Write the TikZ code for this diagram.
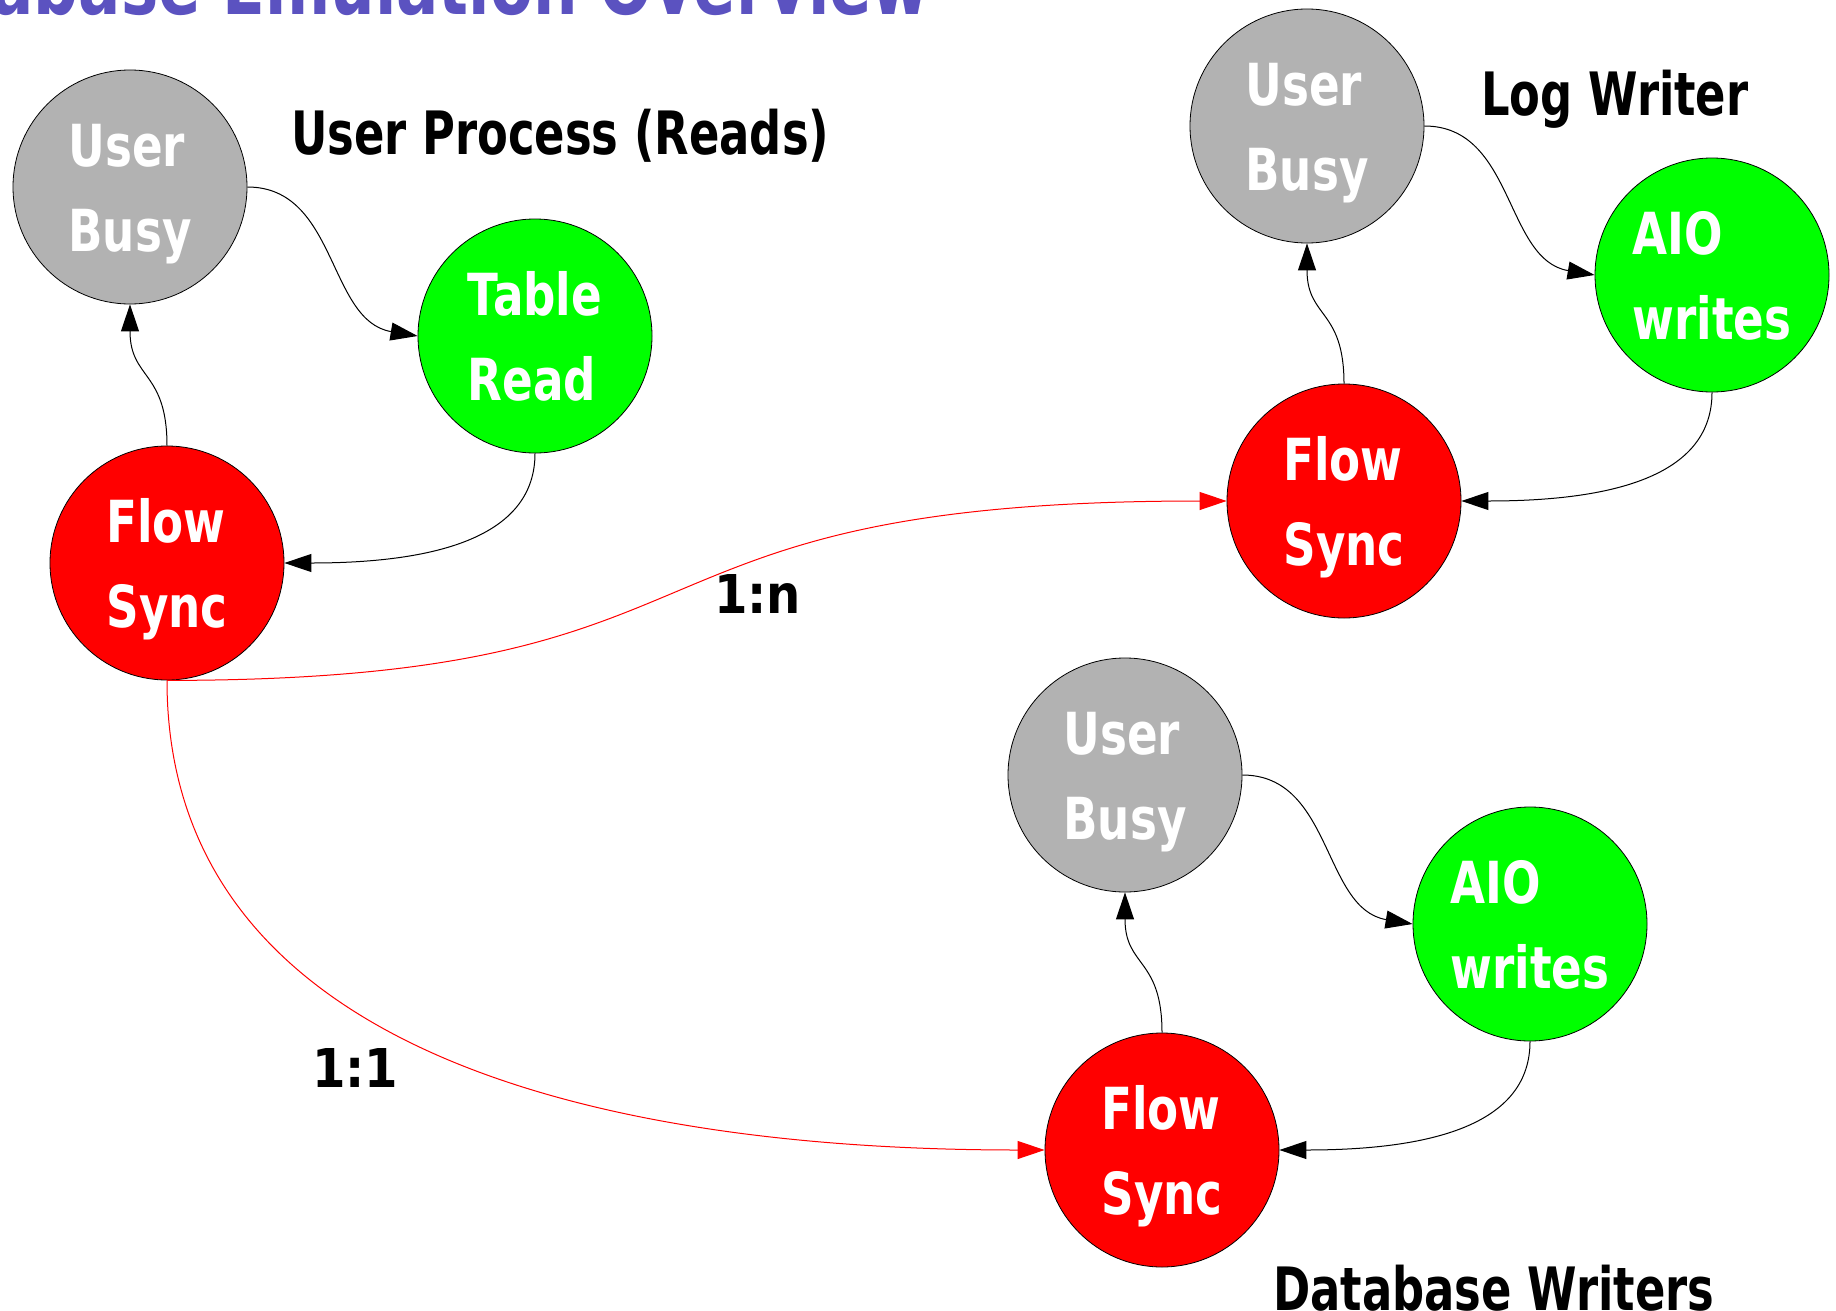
\documentclass[tikz,border=0pt]{standalone}
\usepackage{fontspec}
\newfontfamily\figfont{DejaVu Sans Bold}[FakeStretch=0.75]
\newfontfamily\statefont{DejaVu Sans Bold}[FakeStretch=0.78]
\newfontfamily\ratiofont{DejaVu Sans Bold}[FakeStretch=0.9]
\usetikzlibrary{arrows.meta}

\definecolor{busygray}{RGB}{178,178,178}
\definecolor{ioGreen}{RGB}{0,255,0}
\definecolor{syncRed}{RGB}{255,0,0}
\definecolor{titleBlue}{RGB}{91,82,192}

\tikzset{
  state/.style={circle, draw=black, line width=0.8pt, minimum size=234pt, inner sep=0pt},
  busy/.style={state, fill=busygray},
  io/.style={state, fill=ioGreen},
  sync/.style={state, fill=syncRed},
  % multi-line labels: the base anchor sits on the last line
  statetext/.style={align=left, anchor=base, text=white, inner sep=0pt,
    font=\statefont\fontsize{58}{85}\selectfont},
  heading/.style={anchor=base west, inner sep=0pt, font=\figfont\fontsize{59.8}{70}\selectfont},
  ratio/.style={anchor=base west, inner sep=0pt, font=\ratiofont\fontsize{53.5}{64}\selectfont},
  flow/.style={line width=1pt, -{Triangle[length=27pt, width=18pt]}},
  link/.style={flow, draw=syncRed},
}

\begin{document}
\begin{tikzpicture}[x=1pt, y=-1pt]
  \useasboundingbox (0,0) rectangle (1836,1311);

  % title, running off the left and top edges
  \node[anchor=base east, inner sep=0pt, text=titleBlue,
        font=\figfont\fontsize{83.5}{100}\selectfont] (title) at (930,15)
        {Database Emulation Overview};

  % user process
  \node[busy] (ub1) at (130,187) {};
  \node[io]   (tr)  at (535,336) {};
  \node[sync] (fs1) at (167,563) {};
  % log writer
  \node[busy] (ub2)  at (1307,126) {};
  \node[io]   (aio1) at (1712,275) {};
  \node[sync] (fs2)  at (1344,501) {};
  % database writers
  \node[busy] (ub3)  at (1125,775) {};
  \node[io]   (aio2) at (1530,924) {};
  \node[sync] (fs3)  at (1162,1150) {};

  % state labels, two lines centred on each circle
  \foreach \n/\t in {ub1/{User\\Busy}, tr/{Table\\Read}, fs1/{Flow\\Sync},
                     ub2/{User\\Busy}, aio1/{AIO\\writes}, fs2/{Flow\\Sync},
                     ub3/{User\\Busy}, aio2/{AIO\\writes}, fs3/{Flow\\Sync}}
    \node[statetext] (\n-text) at ([yshift=-64pt]\n.center) {\t};

  % group headings and ratios
  \node[heading] (h1) at (291,154)  {User Process (Reads)};
  \node[heading] (h2) at (1481,116) {Log Writer};
  \node[heading] (h3) at (1273,1310) {Database Writers};
  \node[ratio] (r1) at (714,613)  {1:n};
  \node[ratio] (r2) at (312,1087) {1:1};

  % cycle inside each group
  \foreach \u/\a/\f in {ub1/tr/fs1, ub2/aio1/fs2, ub3/aio2/fs3} {
    \draw[flow] (\f.north) .. controls +(0,-75) and +(0,75) .. (\u.south);
    \draw[flow] (\u.east) .. controls +(90,0) and +(-90,-15) .. (\a.west);
    \draw[flow] (\a.south) .. controls +(0,80) and +(160,0) .. (\f.east);
  }

  % links between the flow sync points
  \draw[link] (fs1.south) .. controls +(600,0) and +(-640,0) .. (fs2.west);
  \draw[link] (fs1.south) .. controls +(0,380) and +(-425,0) .. (fs3.west);
\end{tikzpicture}
\end{document}
